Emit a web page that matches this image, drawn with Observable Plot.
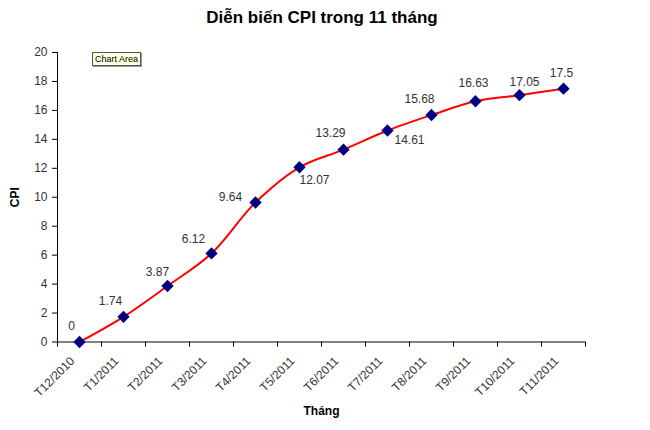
<!DOCTYPE html>
<html>
<head>
<meta charset="utf-8">
<script src="https://cdn.jsdelivr.net/npm/d3@7"></script>
<script src="https://cdn.jsdelivr.net/npm/@observablehq/plot@0.6"></script>
<style>
  body { margin: 0; background: #fff; }
  #wrap { position: relative; width: 650px; height: 430px; font-family: Arial, "Liberation Sans", sans-serif; }
  #title { height: 40px; line-height: 36px; text-align: center; font-weight: bold; font-size: 17px; color: #000; padding-right: 6px; box-sizing: border-box; }
  #tip { position: absolute; left: 92px; top: 52px; padding: 0 2px; height: 12px; line-height: 12px; font-size: 9px; background: #ffffe1; border: 1px solid #555; box-shadow: 1px 1px 0 #999; color: #000; }
  svg g[aria-label$="axis label"] text { font-weight: bold; fill: #000; }
</style>
</head>
<body>
<div id="wrap">
  <div id="title">Diễn biến CPI trong 11 tháng</div>
  <div id="chart"></div>
  <div id="tip">Chart Area</div>
</div>
<script>
const months = ["T12/2010", "T1/2011", "T2/2011", "T3/2011", "T4/2011", "T5/2011", "T6/2011", "T7/2011", "T8/2011", "T9/2011", "T10/2011", "T11/2011"];
const cpi = [0, 1.74, 3.87, 6.12, 9.64, 12.07, 13.29, 14.61, 15.68, 16.63, 17.05, 17.5];
const yTicks = [0, 2, 4, 6, 8, 10, 12, 14, 16, 18, 20];

// label nudges (style, not data)
const labelNudge = [[-8,-16],[-13,-16],[-10,-14],[-18,-14],[-25,-5],[15,13],[-13,-16],[22,10],[-12,-16],[-2,-18],[5,-13],[-2,-16]];

const data = months.map((m, i) => ({pos: i + 0.5, month: m, cpi: cpi[i]}));
const fmt = v => String(v);

const labels = data.map((d, i) => Plot.text([d], {
  x: "pos", y: "cpi", text: dd => fmt(dd.cpi),
  dx: labelNudge[i][0], dy: labelNudge[i][1],
  fill: "#333", fontSize: 12
}));

const chart = Plot.plot({
  width: 650,
  height: 390,
  marginTop: 12,
  marginLeft: 57,
  marginRight: 65,
  marginBottom: 88.5,
  style: {fontFamily: "Arial, 'Liberation Sans', sans-serif", fontSize: "12px", color: "#333", background: "#fff"},
  x: {type: "linear", domain: [0, 12]},
  y: {domain: [0, 20]},
  marks: [
    Plot.axisY({ticks: yTicks, tickSize: 5, tickPadding: 5, stroke: "#000", fontSize: 12,
      label: "CPI", labelAnchor: "center", labelArrow: "none", labelOffset: 47}),
    Plot.axisX({ticks: d3.range(13), tickSize: 5, stroke: "#000", tickFormat: () => "", label: null}),
    Plot.axisX({ticks: data.map(d => d.pos), tickSize: 0, tickPadding: 17, dx: -7, tickRotate: -45, fontSize: 12,
      tickFormat: v => months[Math.round(v - 0.5)],
      label: "Tháng", labelAnchor: "center", labelArrow: "none", labelOffset: 73}),
    Plot.ruleY([0], {stroke: "#000"}),
    Plot.ruleX([0], {stroke: "#000"}),
    Plot.line(data, {x: "pos", y: "cpi", stroke: "#ff0000", strokeWidth: 2, curve: "catmull-rom"}),
    Plot.dot(data, {x: "pos", y: "cpi", symbol: "diamond2", r: 4.6, fill: "#000080", stroke: "#000080"}),
    ...labels
  ]
});
document.getElementById("chart").appendChild(chart);
</script>
</body>
</html>
